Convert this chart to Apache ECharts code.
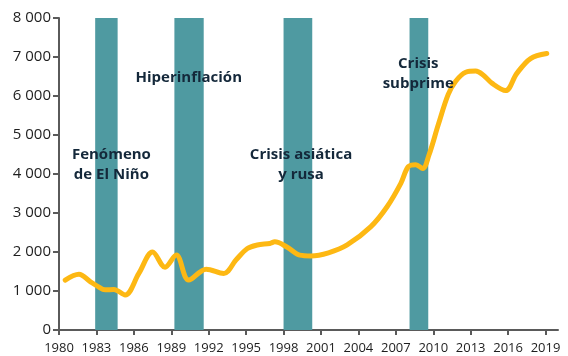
<!DOCTYPE html>
<html>
<head>
<meta charset="utf-8">
<script src="https://cdn.jsdelivr.net/npm/echarts@6/dist/echarts.min.js"></script>
<style>
  html, body { margin: 0; padding: 0; background: #fff; }
  #chart { width: 568px; height: 356px; }
</style>
</head>
<body>
<div id="chart"></div>
<script>
// Value curve (year, value)
const years = [1980.5, 1981.6, 1982.5, 1983.1, 1983.7, 1984.4, 1985.3, 1986.4, 1987.5, 1988.5, 1989.4,
  1990.4, 1991.8, 1993.2, 1994.2, 1995.1, 1995.9, 1996.9, 1997.3, 1998.3, 1999.3, 2000.2,
  2001.6, 2003.1, 2005.0, 2006.3, 2007.4, 2008.0, 2008.6, 2009.15, 2009.65, 2010.4, 2011.2,
  2011.8, 2012.6, 2013.4, 2014.0, 2014.7, 2015.8, 2016.7, 2017.8, 2019.1];
const values = [1280, 1430, 1240, 1120, 1030, 1040, 900, 1450, 2000, 1610, 1920,
  1280, 1560, 1450, 1800, 2090, 2180, 2220, 2260, 2120, 1920, 1900,
  1980, 2180, 2650, 3160, 3760, 4190, 4240, 4140, 4480, 5260, 6040,
  6380, 6610, 6640, 6540, 6330, 6140, 6580, 6960, 7090];

// Crisis periods shown as shaded bands
const crisisStart = [1982.9, 1989.25, 1998.0, 2008.1];
const crisisEnd = [1984.7, 1991.6, 2000.3, 2009.6];

// Crisis captions
const captionText = ['Fenómeno\nde El Niño', 'Hiperinflación', 'Crisis asiática\ny rusa', 'Crisis\nsubprime'];
const captionYear = [1984.2, 1990.4, 1999.4, 2008.8];
const captionValue = [4230, 6480, 4230, 6560];

// Axis ticks
const xTicks = [1980, 1983, 1986, 1989, 1992, 1995, 1998, 2001, 2004, 2007, 2010, 2013, 2016, 2019];
const yMin = 0, yMax = 8000, yStep = 1000;

const chart = echarts.init(document.getElementById('chart'), null, { renderer: 'canvas' });

const axisColor = '#5a5a5a';
const fontFamily = '"Open Sans", sans-serif';

chart.setOption({
  animation: false,
  grid: { left: 59, right: 10, top: 18, bottom: 26 },
  xAxis: {
    type: 'value',
    min: 1980,
    max: 2020,
    splitLine: { show: false },
    axisLine: { show: true, lineStyle: { color: axisColor, width: 2 } },
    axisTick: { show: true, length: 5, lineStyle: { color: axisColor, width: 2 }, customValues: xTicks },
    axisLabel: {
      customValues: xTicks,
      color: '#1e1e1e', fontSize: 13, fontFamily: fontFamily, margin: 12,
      formatter: v => String(v)
    }
  },
  yAxis: {
    type: 'value',
    min: yMin,
    max: yMax,
    interval: yStep,
    splitLine: { show: false },
    axisLine: { show: true, lineStyle: { color: axisColor, width: 2 } },
    axisTick: { show: true, length: 6, lineStyle: { color: axisColor, width: 2 } },
    axisLabel: {
      color: '#1e1e1e', fontSize: 15, fontFamily: fontFamily, margin: 8,
      formatter: v => v >= 1000 ? Math.floor(v / 1000) + ' ' + String(v % 1000).padStart(3, '0') : String(v)
    }
  },
  series: [
    {
      type: 'custom',
      z: 1,
      silent: true,
      data: crisisStart.map((s, i) => [s, crisisEnd[i]]),
      renderItem: (params, api) => {
        const p0 = api.coord([api.value(0), yMax]);
        const p1 = api.coord([api.value(1), yMin]);
        return {
          type: 'rect',
          shape: { x: p0[0], y: p0[1], width: p1[0] - p0[0], height: p1[1] - p0[1] },
          style: { fill: '#4f9aa1' }
        };
      }
    },
    {
      type: 'line',
      z: 3,
      data: years.map((y, i) => [y, values[i]]),
      smooth: 0.35,
      showSymbol: false,
      symbol: 'none',
      lineStyle: { color: '#fdb813', width: 5, cap: 'round', join: 'round' }
    },
    {
      type: 'custom',
      z: 4,
      silent: true,
      data: captionText.map((t, i) => [captionYear[i], captionValue[i], i]),
      renderItem: (params, api) => {
        const p = api.coord([api.value(0), api.value(1)]);
        return {
          type: 'text',
          x: p[0],
          y: p[1],
          style: {
            text: captionText[api.value(2)],
            fill: '#14283a',
            font: 'bold 15px ' + fontFamily,
            lineHeight: 20,
            align: 'center',
            verticalAlign: 'middle'
          }
        };
      }
    }
  ]
});
</script>
</body>
</html>
